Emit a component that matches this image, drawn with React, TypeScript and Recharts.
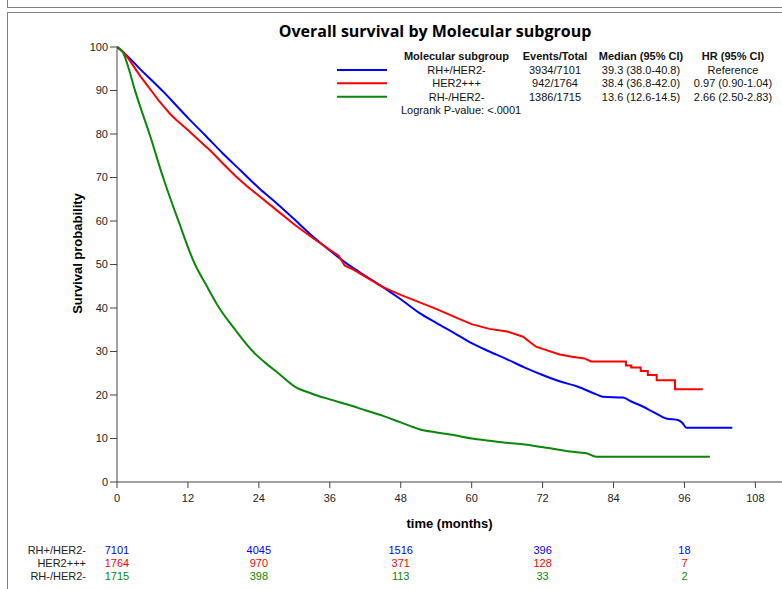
import React from 'react';
import { LineChart, Line, XAxis, YAxis } from 'recharts';

// Kaplan-Meier curves (months, survival %)
const rhPosTime = [0, 2, 4, 6, 8, 10, 12, 15, 18, 21, 24, 27, 30, 33, 36, 39, 42, 45, 48, 51, 54, 57, 60, 63, 66, 69, 72, 75, 78, 81, 82.2, 85.6, 87, 88.4, 90.6, 92.9, 95, 95.7, 96.3, 104.1];
const rhPosSurv = [100, 97.6, 94.8, 92.2, 89.5, 86.6, 83.7, 79.6, 75.4, 71.5, 67.6, 64.1, 60.4, 56.6, 53.2, 50.1, 47.4, 44.8, 42.0, 39.0, 36.6, 34.3, 31.9, 30.0, 28.2, 26.3, 24.6, 23.1, 21.9, 20.2, 19.6, 19.4, 18.5, 17.7, 16.2, 14.6, 14.2, 13.5, 12.5, 12.5];

const her2Time = [0, 1, 2, 3, 4, 5, 6, 7, 8, 9, 10, 12, 14, 16, 18, 20, 22, 24, 27, 30, 33, 36, 37.5, 38.5, 40, 42, 45, 48, 51, 54, 57, 60, 63, 66, 68.7, 70, 70.9, 72, 74.9, 77, 79.1, 80.2, 86.1, 86.1, 87, 87, 88.6, 88.6, 89.8, 89.8, 91.3, 91.3, 94.4, 94.4, 99.1];
const her2Surv = [100, 99, 97.2, 95.2, 93.2, 91.4, 89.6, 87.8, 86.2, 84.6, 83.3, 80.9, 78.4, 75.9, 73.1, 70.4, 68.0, 65.8, 62.5, 59.2, 56.2, 53.4, 52, 49.8, 48.8, 47.2, 44.8, 43, 41.4, 39.8, 38, 36.3, 35.2, 34.6, 33.4, 32, 31.1, 30.6, 29.3, 28.8, 28.4, 27.7, 27.7, 26.8, 26.8, 26.3, 26.3, 25.5, 25.5, 24.6, 24.6, 23.4, 23.4, 21.3, 21.3];

const rhNegTime = [0, 1, 2, 3, 4, 5.5, 7.8, 10.4, 13.2, 15, 17.3, 20, 23, 25, 27.3, 30, 33, 36, 39, 42, 45, 48, 51, 54, 57, 60, 63, 66, 69, 71.5, 74, 76.6, 79.4, 81.1, 100.3];
const rhNegSurv = [100, 98.8, 95, 90.2, 86, 80, 70, 60, 50, 45.5, 40, 35, 30, 27.5, 25, 22, 20.3, 19, 17.8, 16.5, 15.2, 13.7, 12.2, 11.4, 10.8, 10, 9.5, 9, 8.6, 8.1, 7.6, 7, 6.6, 5.8, 5.8];

// legend table
const groupNames = ['RH+/HER2-', 'HER2+++', 'RH-/HER2-'];
const groupColors = ['#0000ff', '#ff0000', '#0a870a'];
const eventsTotal = ['3934/7101', '942/1764', '1386/1715'];
const medianCI = ['39.3 (38.0-40.8)', '38.4 (36.8-42.0)', '13.6 (12.6-14.5)'];
const hrCI = ['Reference', '0.97 (0.90-1.04)', '2.66 (2.50-2.83)'];

// number at risk
const riskTimes = [0, 24, 48, 72, 96];
const riskRhPos = [7101, 4045, 1516, 396, 18];
const riskHer2 = [1764, 970, 371, 128, 7];
const riskRhNeg = [1715, 398, 113, 33, 2];
const riskRows = [riskRhPos, riskHer2, riskRhNeg];

const xTicks = [0, 12, 24, 36, 48, 60, 72, 84, 96, 108];
const yTicks = [0, 10, 20, 30, 40, 50, 60, 70, 80, 90, 100];

const toPoints = (ts: number[], ss: number[]) => ts.map((t, i) => ({ t, s: ss[i] }));
const series = [
  toPoints(rhPosTime, rhPosSurv),
  toPoints(her2Time, her2Surv),
  toPoints(rhNegTime, rhNegSurv),
];
const curveTypes: ('monotone' | 'linear')[] = ['monotone', 'linear', 'monotone'];

const W = 782;
const H = 589;
const X_MAX = 112.5;
const PLOT_LEFT = 117;
const PLOT_RIGHT = W;
const xPos = (t: number) => PLOT_LEFT + (t / X_MAX) * (PLOT_RIGHT - PLOT_LEFT);

const FONT = '"Liberation Sans", Arial, sans-serif';
const TITLE_FONT = '"Open Sans", "Noto Sans", sans-serif';

function Overlay() {
  const cols = [456.5, 555, 641, 733];
  const rowY = [70, 83.3, 96.7];
  const riskY = [550, 563, 576];
  return (
    <svg width={W} height={H} style={{ position: 'absolute', left: 0, top: 0, pointerEvents: 'none' }}>
      <text x={435} y={37} textAnchor="middle" fontSize={16} fontWeight={700} fontFamily={TITLE_FONT} fill="#000">
        Overall survival by Molecular subgroup
      </text>
      <g fontFamily={FONT} fontSize={11} fill="#111">
        <g fontWeight={700} textAnchor="middle">
          <text x={cols[0]} y={60}>Molecular subgroup</text>
          <text x={cols[1]} y={60}>Events/Total</text>
          <text x={cols[2]} y={60}>Median (95% CI)</text>
          <text x={cols[3]} y={60}>HR (95% CI)</text>
        </g>
        {groupNames.map((g, i) => (
          <g key={g} textAnchor="middle">
            <line x1={337} x2={387} y1={rowY[i]} y2={rowY[i]} stroke={groupColors[i]} strokeWidth={2} />
            <text x={cols[0]} y={rowY[i] + 4}>{g}</text>
            <text x={cols[1]} y={rowY[i] + 4}>{eventsTotal[i]}</text>
            <text x={cols[2]} y={rowY[i] + 4}>{medianCI[i]}</text>
            <text x={cols[3]} y={rowY[i] + 4}>{hrCI[i]}</text>
          </g>
        ))}
        <text x={401} y={114}>Logrank P-value: &lt;.0001</text>
      </g>
      <g fontFamily={FONT} fontSize={11}>
        {riskRows.map((row, r) => (
          <g key={r}>
            <text x={86} y={riskY[r] + 4} textAnchor="end" fill="#222">{groupNames[r]}</text>
            {row.map((n, i) => (
              <text key={i} x={xPos(riskTimes[i])} y={riskY[r] + 4} textAnchor="middle" fill={groupColors[r]}>{n}</text>
            ))}
          </g>
        ))}
      </g>
    </svg>
  );
}

export default function App() {
  return (
    <div style={{ position: 'absolute', left: 0, top: 0, width: W, height: H, overflow: 'hidden', background: '#fff' }}>
      <div style={{ position: 'absolute', left: 7, top: -20, width: 820, height: 26, border: '1.5px solid #808080' }} />
      <div style={{ position: 'absolute', left: 7, top: 12, width: 820, height: 620, border: '1.5px solid #808080' }} />
      <LineChart width={W} height={H} margin={{ top: 47, right: 0, left: 57, bottom: 57 }} style={{ position: 'absolute', left: 0, top: 0 }}>
        <XAxis
          type="number"
          dataKey="t"
          domain={[0, X_MAX]}
          ticks={xTicks}
          allowDataOverflow
          height={50}
          tickSize={6}
          tickMargin={6}
          stroke="#444"
          tick={{ fontSize: 11, fontFamily: FONT, fill: '#222' }}
          label={{ value: 'time (months)', position: 'insideBottom', offset: 4, fontSize: 13, fontWeight: 700, fontFamily: FONT, fill: '#000' }}
        />
        <YAxis
          type="number"
          domain={[0, 100]}
          ticks={yTicks}
          width={60}
          tickSize={7}
          stroke="#444"
          tick={{ fontSize: 11, fontFamily: FONT, fill: '#222' }}
          label={({ viewBox }: any) => (
            <text
              x={viewBox.x + 25}
              y={viewBox.y + viewBox.height / 2 - 11}
              transform={`rotate(-90 ${viewBox.x + 25} ${viewBox.y + viewBox.height / 2 - 11})`}
              textAnchor="middle"
              fontSize={13}
              fontWeight={700}
              fontFamily={FONT}
              fill="#000"
            >
              Survival probability
            </text>
          )}
        />
        {series.map((d, i) => (
          <Line
            key={groupNames[i]}
            data={d}
            dataKey="s"
            type={curveTypes[i]}
            stroke={groupColors[i]}
            strokeWidth={2}
            dot={false}
            isAnimationActive={false}
          />
        ))}
      </LineChart>
      <Overlay />
    </div>
  );
}
